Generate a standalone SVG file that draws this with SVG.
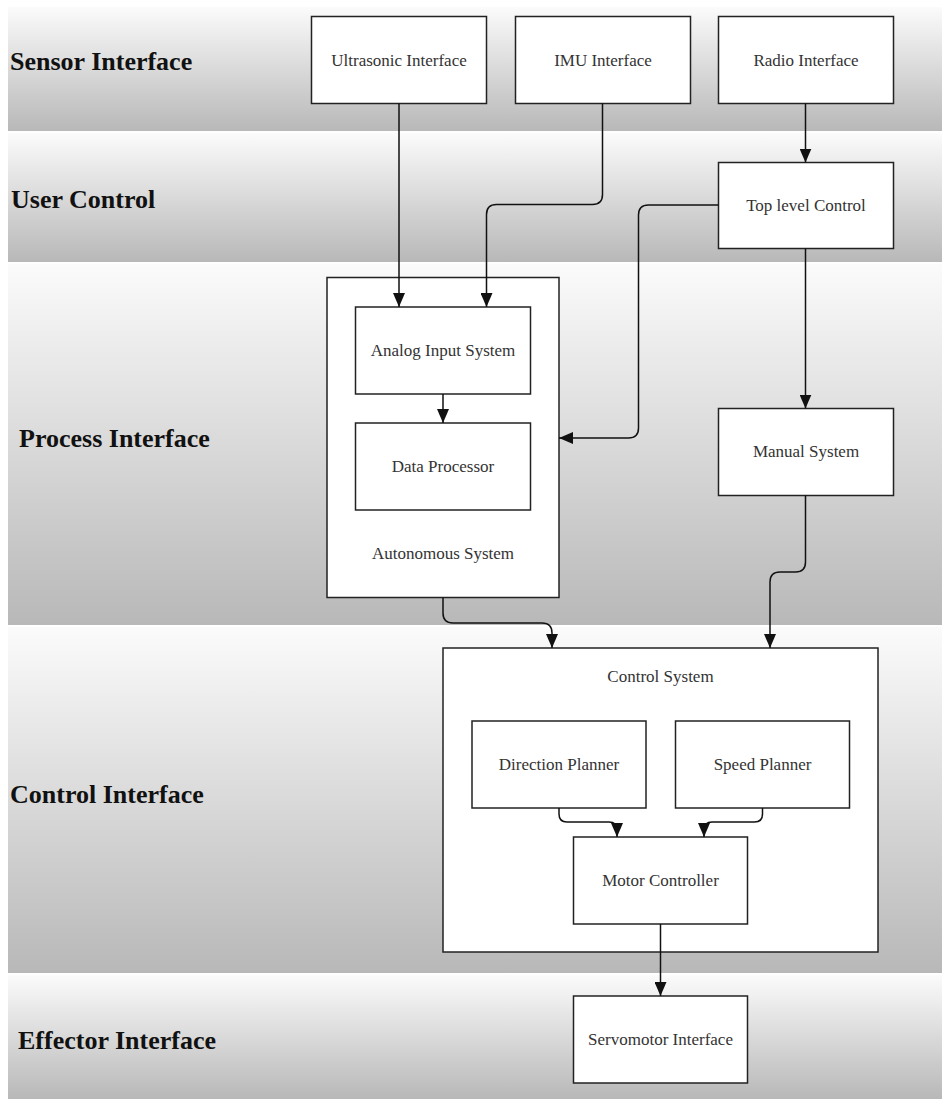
<svg xmlns="http://www.w3.org/2000/svg" width="942" height="1099" viewBox="0 0 942 1099">
<defs>
<linearGradient id="laneGrad" x1="0" y1="0" x2="0" y2="1">
<stop offset="0" stop-color="#fbfbfb"/>
<stop offset="1" stop-color="#b8b8b8"/>
</linearGradient>
<marker id="arrow" markerUnits="userSpaceOnUse" markerWidth="14" markerHeight="12" refX="14" refY="6" orient="auto" viewBox="0 0 14 12">
<path d="M0,0 L14,6 L0,12 z" fill="#111"/>
</marker>
<style>
.lane{fill:url(#laneGrad);stroke:none}
.lanelabel{font-family:"Liberation Serif","Times New Roman",serif;font-weight:bold;font-size:26px;fill:#111}
.box{fill:#fff;stroke:#222;stroke-width:1.5}
.label{font-family:"Liberation Serif","Times New Roman",serif;font-size:17px;fill:#333;text-anchor:middle}
.conn{fill:none;stroke:#111;stroke-width:1.5;marker-end:url(#arrow)}
.plain{fill:none;stroke:#111;stroke-width:1.5}
</style>
</defs>
<rect x="0" y="0" width="942" height="1099" fill="#fff"/>
<g id="lanes">
<g id="lane-sensor"><rect class="lane" x="8" y="7" width="934" height="124"/><text class="lanelabel" x="10" y="70">Sensor Interface</text></g>
<g id="lane-user"><rect class="lane" x="8" y="133" width="934" height="129"/><text class="lanelabel" x="11" y="208">User Control</text></g>
<g id="lane-process"><rect class="lane" x="8" y="264" width="934" height="361"/><text class="lanelabel" x="19" y="447">Process Interface</text></g>
<g id="lane-control"><rect class="lane" x="8" y="627" width="934" height="346"/><text class="lanelabel" x="10" y="803">Control Interface</text></g>
<g id="lane-effector"><rect class="lane" x="8" y="975" width="934" height="124"/><text class="lanelabel" x="18" y="1049">Effector Interface</text></g>
</g>
<g id="nodes">
<g id="ultrasonic"><rect class="box" x="311.5" y="16.5" width="175" height="87"/><text class="label" x="399" y="66">Ultrasonic Interface</text></g>
<g id="imu"><rect class="box" x="515.5" y="16.5" width="175" height="87"/><text class="label" x="603" y="66">IMU Interface</text></g>
<g id="radio"><rect class="box" x="718.5" y="16.5" width="175" height="87"/><text class="label" x="806" y="66">Radio Interface</text></g>
<g id="toplevel"><rect class="box" x="718.5" y="162.5" width="175" height="86"/><text class="label" x="806" y="211">Top level Control</text></g>
<g id="autonomous"><rect class="box" x="327" y="277.5" width="232" height="320"/><text class="label" x="443" y="559">Autonomous System</text></g>
<g id="analog"><rect class="box" x="355.5" y="307" width="175" height="87"/><text class="label" x="443" y="356">Analog Input System</text></g>
<g id="dataproc"><rect class="box" x="355.5" y="423" width="175" height="87"/><text class="label" x="443" y="472">Data Processor</text></g>
<g id="manual"><rect class="box" x="718.5" y="408.5" width="175" height="87"/><text class="label" x="806" y="457">Manual System</text></g>
<g id="controlsys"><rect class="box" x="443" y="648" width="435" height="304"/><text class="label" x="660.5" y="682">Control System</text></g>
<g id="direction"><rect class="box" x="472" y="721" width="174" height="87"/><text class="label" x="559" y="770">Direction Planner</text></g>
<g id="speed"><rect class="box" x="675.5" y="721" width="174" height="87"/><text class="label" x="762.5" y="770">Speed Planner</text></g>
<g id="motor"><rect class="box" x="573.5" y="837" width="174" height="87"/><text class="label" x="660.5" y="886">Motor Controller</text></g>
<g id="servo"><rect class="box" x="573.5" y="996" width="174" height="87"/><text class="label" x="660.5" y="1045">Servomotor Interface</text></g>
</g>
<g id="connectors">
<path class="conn" d="M399,103.5 V307"/>
<path class="conn" d="M602.5,103.5 V194.5 Q602.5,204.5 592.5,204.5 H496.5 Q486.5,204.5 486.5,214.5 V307"/>
<path class="conn" d="M805.5,103.5 V162.5"/>
<path class="conn" d="M718.5,205 H648.5 Q638.5,205 638.5,215 V428 Q638.5,438 628.5,438 H559"/>
<path class="conn" d="M805.5,248.5 V408.5"/>
<path class="conn" d="M443,394 V423"/>
<path class="conn" d="M443,597.5 V613 Q443,623 453,623 H542 Q552,623 552,633 V648"/>
<path class="conn" d="M805.5,495.5 V562 Q805.5,572 795.5,572 H780 Q770,572 770,582 V648"/>
<path class="conn" d="M559,808 V814 Q559,822 567,822 H609 Q617,822 617,830 V837"/>
<path class="conn" d="M762.5,808 V814 Q762.5,822 754.5,822 H712 Q704,822 704,830 V837"/>
<path class="conn" d="M660.5,924 V996"/>
</g>
</svg>
